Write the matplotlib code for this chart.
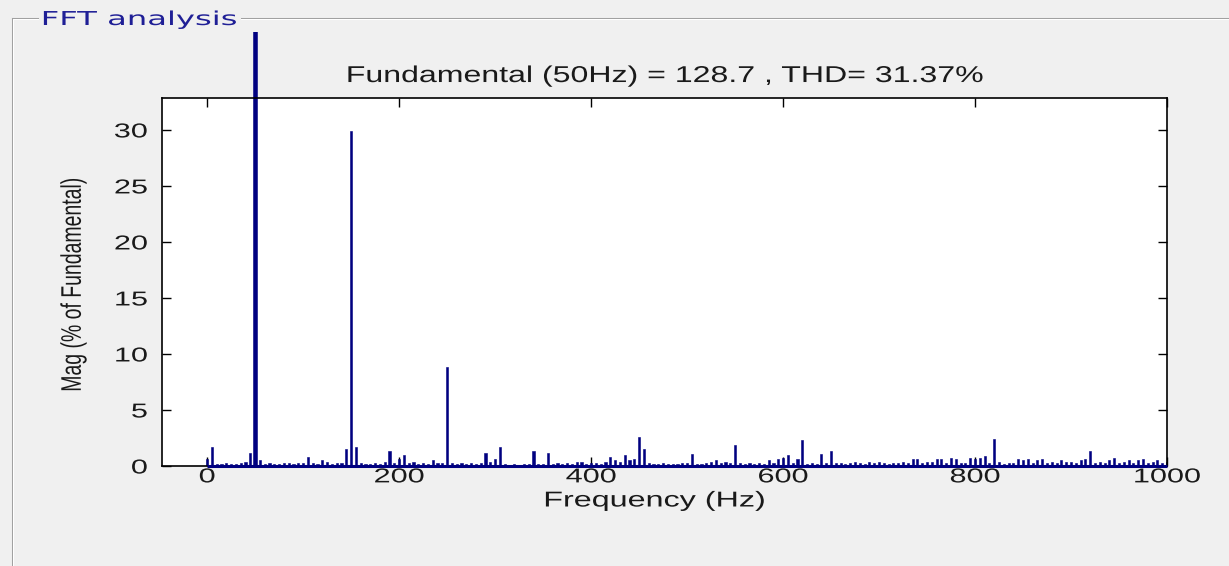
import matplotlib
matplotlib.use('Agg')
import matplotlib.pyplot as plt
from matplotlib.patheffects import AbstractPathEffect
from matplotlib.transforms import Affine2D, Bbox, TransformedBbox
from matplotlib.lines import Line2D

plt.rcParams['font.family'] = ['Liberation Sans', 'DejaVu Sans']

# harmonic spectrum, 5 Hz bins from 0 to 1000 Hz (% of fundamental)
freqs = list(range(0, 1001, 5))
mags = [
    0.6, 1.7, 0.2, 0.2, 0.3, 0.2, 0.2, 0.3, 0.4, 1.2, 100.0, 0.5, 0.2, 0.3, 0.2, 0.2, 0.3, 0.3, 0.2, 0.3,   # 0-95
    0.3, 0.8, 0.3, 0.2, 0.5, 0.4, 0.2, 0.3, 0.3, 1.5, 29.9, 1.7, 0.3, 0.2, 0.2, 0.3, 0.2, 0.4, 1.3, 0.3,    # 100-195
    0.6, 1.0, 0.3, 0.4, 0.2, 0.3, 0.2, 0.5, 0.3, 0.3, 8.8, 0.3, 0.2, 0.3, 0.2, 0.3, 0.2, 0.3, 1.2, 0.4,     # 200-295
    0.6, 1.7, 0.2, 0.1, 0.2, 0.1, 0.2, 0.2, 1.3, 0.2, 0.2, 1.2, 0.2, 0.3, 0.2, 0.3, 0.2, 0.4, 0.4, 0.2,     # 300-395
    0.3, 0.3, 0.2, 0.4, 0.8, 0.5, 0.4, 1.0, 0.5, 0.6, 2.6, 1.5, 0.3, 0.2, 0.2, 0.3, 0.2, 0.2, 0.2, 0.3,     # 400-495
    0.3, 1.1, 0.2, 0.2, 0.3, 0.4, 0.5, 0.3, 0.4, 0.3, 1.9, 0.3, 0.2, 0.3, 0.2, 0.3, 0.2, 0.5, 0.3, 0.6,     # 500-595
    0.7, 1.0, 0.3, 0.6, 2.3, 0.2, 0.3, 0.2, 1.1, 0.3, 1.3, 0.3, 0.3, 0.2, 0.3, 0.4, 0.3, 0.2, 0.4, 0.3,     # 600-695
    0.4, 0.3, 0.2, 0.3, 0.3, 0.4, 0.3, 0.6, 0.6, 0.3, 0.4, 0.4, 0.6, 0.6, 0.3, 0.7, 0.6, 0.3, 0.3, 0.7,     # 700-795
    0.6, 0.7, 0.9, 0.3, 2.4, 0.4, 0.2, 0.3, 0.3, 0.6, 0.5, 0.6, 0.3, 0.5, 0.6, 0.3, 0.4, 0.3, 0.5, 0.4,     # 800-895
    0.4, 0.3, 0.5, 0.6, 1.3, 0.3, 0.4, 0.3, 0.5, 0.7, 0.3, 0.4, 0.5, 0.3, 0.5, 0.6, 0.3, 0.4, 0.5, 0.3,     # 900-995
    0.4,                                                                                                     # 1000
]
fund_freq = 50
title_txt = 'Fundamental (50Hz) = 128.7 , THD= 31.37%'
panel_txt = 'FFT analysis'
xticks = [0, 200, 400, 600, 800, 1000]
yticks = [0, 5, 10, 15, 20, 25, 30]

W, H = 1229, 566
bg = '#f0f0f0'
navy = '#000080'
ink = '#1a1a1a'


def fx(px):
    return px / W


def fy(py):
    return 1 - py / H


class Widen(AbstractPathEffect):
    # the screenshot is stretched sideways, so widen the glyphs the same way
    def __init__(self, sx, anchor='center', along=True):
        super().__init__()
        self.sx = sx
        self.anchor = anchor
        self.along = along

    def draw_path(self, renderer, gc, tpath, affine, rgbFace=None):
        ext = tpath.get_extents()
        if self.along:
            a = {'left': ext.x0, 'center': 0.5 * (ext.x0 + ext.x1), 'right': ext.x1}[self.anchor]
            t = Affine2D().translate(-a, 0).scale(self.sx, 1).translate(a, 0)
        else:
            a = 0.5 * (ext.y0 + ext.y1)
            t = Affine2D().translate(0, -a).scale(1, self.sx).translate(0, a)
        renderer.draw_path(gc, tpath, t + affine, rgbFace)


fig = plt.figure(figsize=(W / 100, H / 100), dpi=100, facecolor=bg)

# etched panel frame with its title
for off, col in ((0, '#a0a0a0'), (1, 'white')):
    fig.add_artist(Line2D([fx(11.5 + off)] * 2, [fy(17.5 + off), 0], color=col, lw=0.75))
    fig.add_artist(Line2D([fx(11.5 + off), fx(38)], [fy(17.5 + off)] * 2, color=col, lw=0.75))
    fig.add_artist(Line2D([fx(241), 1], [fy(17.5 + off)] * 2, color=col, lw=0.75))
fig.text(fx(42), fy(19.5), panel_txt, ha='left', va='center', fontsize=13.8,
         family='DejaVu Sans', color='#1f1f96', path_effects=[Widen(1.68, 'left')])

ax = fig.add_axes([fx(162), fy(466), (1167 - 162) / W, (466 - 98) / H])
ax.set_facecolor('white')

bars = ax.bar(freqs, mags, width=2.2, color=navy, edgecolor=navy, lw=0.4, zorder=2)
fb = bars[freqs.index(fund_freq)]
fb.set_width(4.5)
fb.set_x(fund_freq - 2.25)
# fundamental bar runs out of the axes, up to the panel
fb.set_clip_box(TransformedBbox(Bbox([[0, 0], [1, fy(32)]]), fig.transFigure))

ax.plot([freqs[0], freqs[-1]], [0, 0], color=navy, lw=2.2, clip_on=False,
        zorder=3, solid_capstyle='butt')

ax.set_xlim(-47, 1000)
ax.set_ylim(0, 32.85)
ax.set_xticks(xticks)
ax.set_yticks(yticks)
ax.tick_params(direction='in', length=6.5, width=1, top=True, right=True,
               labelsize=14.5, labelcolor=ink, color='black')
ax.tick_params(axis='x', pad=1)
ax.tick_params(axis='y', pad=10.5)
for s in ax.spines.values():
    s.set_linewidth(1.2)
    s.set_color('black')

for lab in ax.get_xticklabels():
    lab.set_path_effects([Widen(1.52, 'center')])
for lab in ax.get_yticklabels():
    lab.set_path_effects([Widen(1.52, 'right')])

ax.set_title(title_txt, fontsize=16.5, pad=11.5, color=ink, path_effects=[Widen(1.4)])

ax.set_xlabel('Frequency (Hz)', fontsize=15.5, color=ink, path_effects=[Widen(1.5)])
ax.xaxis.label.set_va('center')
ax.xaxis.set_label_coords(0.49, -(501 - 466) / 368)

ax.set_ylabel('Mag (% of Fundamental)', fontsize=14, color=ink,
              path_effects=[Widen(1.46, along=False)])
ax.yaxis.label.set_va('center')
ax.yaxis.set_label_coords((74 - 162) / 1005, (466 - 284) / 368)

fig.savefig('out.png', dpi=100, facecolor=bg)
